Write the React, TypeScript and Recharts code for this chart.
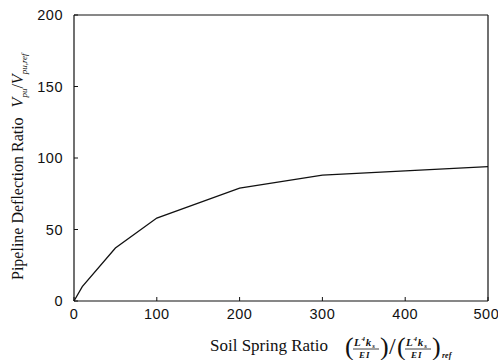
import React from 'react';
import { LineChart, Line, XAxis, YAxis, ReferenceLine } from 'recharts';

// values
const springRatio = [0, 10, 50, 100, 200, 300, 400, 500];
const deflectionRatio = [0, 10, 37, 58, 79, 88, 91, 94];
const xTicks = [0, 100, 200, 300, 400, 500];
const yTicks = [0, 50, 100, 150, 200];

const data = springRatio.map((x, i) => ({ x, y: deflectionRatio[i] }));

const serif = '"Liberation Serif", "DejaVu Serif", serif';
const sans = '"Liberation Sans", Arial, sans-serif';

const YLabel = () => (
  <text
    transform="translate(23, 280) rotate(-90)"
    fontFamily={serif}
    fontSize={16}
    fill="#111"
    textAnchor="start"
  >
    <tspan>Pipeline Deflection Ratio</tspan>
    <tspan dx={10} fontStyle="italic">V</tspan>
    <tspan fontSize={9} dy={4} fontStyle="italic">pu</tspan>
    <tspan dy={-4}>/</tspan>
    <tspan fontStyle="italic">V</tspan>
    <tspan fontSize={9} dy={4} fontStyle="italic">pu,ref</tspan>
  </text>
);

// one (L^4 k_s / EI) block in parentheses
const Frac = ({ x }: { x: number }) => (
  <g fontFamily={serif} fill="#111">
    <text x={x} y={355} fontSize={26}>(</text>
    <text x={x + 9} y={346} fontSize={11} fontStyle="italic" fontWeight="bold" letterSpacing={0.8}>
      L<tspan fontSize={7} dy={-5}>4</tspan>
      <tspan dy={5}>k</tspan>
      <tspan fontSize={7} dy={2}>s</tspan>
    </text>
    <line x1={x + 8} x2={x + 34} y1={349} y2={349} stroke="#111" strokeWidth={0.8} />
    <text x={x + 14} y={358} fontSize={9} fontStyle="italic" fontWeight="bold" letterSpacing={1}>EI</text>
    <text x={x + 35} y={355} fontSize={26}>)</text>
  </g>
);

const XLabel = () => (
  <g>
    <text x={210} y={351} fontFamily={serif} fontSize={17} fill="#111">
      Soil Spring Ratio
    </text>
    <Frac x={345} />
    <text x={389} y={354} fontFamily={serif} fontSize={24} fill="#111">/</text>
    <Frac x={397} />
    <text x={442} y={358} fontFamily={serif} fontSize={8} fontStyle="italic" fontWeight="bold" fill="#111">ref</text>
  </g>
);

const App: React.FC = () => {
  return (
    <div style={{ position: 'absolute', left: 0, top: 0, width: 498, height: 360, background: '#fff' }}>
      <LineChart
        width={498}
        height={360}
        data={data}
        margin={{ top: 15, right: 10, left: 14, bottom: 0 }}
      >
        <XAxis
          dataKey="x"
          type="number"
          domain={[0, 500]}
          ticks={xTicks}
          tickSize={-4}
          tickLine={{ stroke: '#111' }}
          axisLine={{ stroke: '#111', strokeWidth: 1.2 }}
          tick={{ fontSize: 14.5, fill: '#111', fontFamily: sans, letterSpacing: 0.5 }}
          tickMargin={12}
          height={59}
          label={<XLabel />}
        />
        <YAxis
          type="number"
          domain={[0, 200]}
          ticks={yTicks}
          tickSize={-4}
          tickLine={{ stroke: '#111' }}
          axisLine={{ stroke: '#111', strokeWidth: 1.2 }}
          tick={{ fontSize: 14.5, fill: '#111', fontFamily: sans, letterSpacing: 0.5 }}
          tickMargin={15}
          width={60}
          label={<YLabel />}
        />
        <ReferenceLine y={200} stroke="#111" strokeWidth={1} />
        <ReferenceLine x={500} stroke="#111" strokeWidth={1.2} />
        <Line
          type="linear"
          dataKey="y"
          stroke="#111"
          strokeWidth={1.3}
          dot={false}
          isAnimationActive={false}
        />
      </LineChart>
    </div>
  );
};

export default App;
